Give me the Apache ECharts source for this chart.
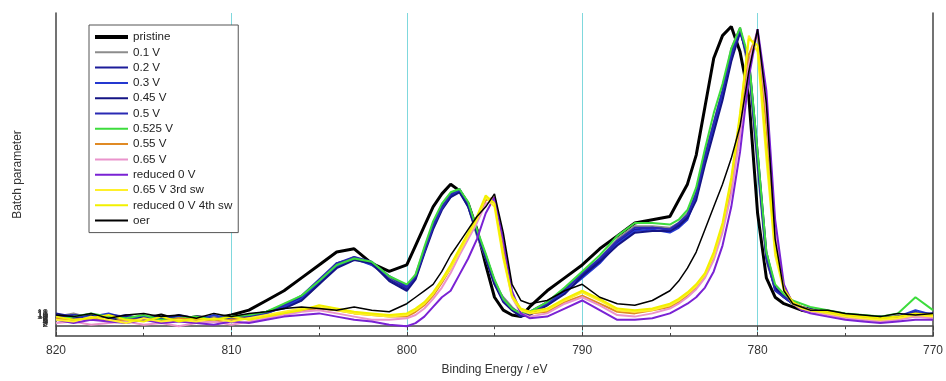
<!DOCTYPE html>
<html>
<head>
<meta charset="utf-8">
<script src="https://cdn.jsdelivr.net/npm/echarts@6/dist/echarts.min.js"></script>
<style>
    html, body { margin: 0; padding: 0; background: #fff; }
    #chart { width: 946px; height: 381px; }
</style>
</head>
<body>
<div id="chart"></div>
<script>
// binding energy grid (eV), finer steps around the peaks
let energy = [
    820, 819, 818, 817, 816, 815, 814, 813, 812, 811, 810, 809, 808, 807, 806, 805, 804, 803, 802, 801, 800,
    799.5, 799, 798.5, 798, 797.5, 797, 796.5, 796, 795.5, 795, 794.5, 794, 793.5, 793,
    792, 791, 790, 789, 788, 787, 786, 785,
    784.5, 784, 783.5, 783, 782.5, 782, 781.5, 781, 780.5, 780, 779.5, 779, 778.5, 778, 777.5, 777,
    776, 775, 774, 773, 772, 771, 770
];

let pristine = [
    6, 5, 6.5, 5, 6, 5.5, 6.5, 5, 6, 5.5, 6.5, 8, 11, 14, 18, 22, 26, 27, 22.5, 20, 22,
    28, 34, 40, 44, 47, 45, 41, 33, 22, 12, 8, 6.5, 6, 9,
    14, 18, 22, 27, 31, 35, 36, 37,
    42, 47, 56, 71, 86, 93, 95.8, 88, 74, 38, 18, 12, 10, 9, 8, 7.5,
    7, 6.5, 6, 5.5, 6, 6.5, 6
];
let v01 = [
    6, 7, 5.5, 6, 5, 6, 5, 5.5, 5, 6, 5.5, 6, 7, 9, 11, 16, 22, 24.5, 22, 18, 15,
    19, 27, 34, 40, 44, 45.5, 40, 31, 24, 16, 12, 9, 6.5, 7,
    10, 14, 19, 24, 30, 34, 34, 33.5,
    35, 38, 45, 57, 66, 76, 89, 95.5, 82, 52, 23, 15, 12.5, 10.5, 9, 8,
    7, 6, 5.5, 6, 5, 7, 6.5
];
let v02 = [
    5.5, 6.5, 6, 5, 6, 5, 6, 5, 5.5, 5, 6, 6.5, 7.5, 9.5, 12, 17, 22.5, 24, 22.5, 17.5, 14.5,
    18, 26, 34, 40, 43.5, 45, 40.5, 32.5, 25, 17, 11.5, 8.5, 7, 7.5,
    10.5, 14.5, 19, 23.5, 29, 33, 33.5, 33,
    34.5, 37, 44, 56, 65, 75, 88, 95, 84, 54, 24, 14.5, 12, 10, 9, 8.5,
    7, 6.5, 5.5, 6, 5.5, 6.5, 7
];
let v03 = [
    6.5, 5.5, 6, 7, 5.5, 6, 5.5, 6, 5, 6.5, 5, 6, 7, 9, 11.5, 16.5, 21.5, 24, 22, 18.5, 15.5,
    18.5, 26.5, 34.5, 39.5, 43, 45, 40, 31.5, 24.5, 16.5, 11, 8, 6.5, 7,
    9.5, 13.5, 18, 22.5, 28.5, 32.5, 33, 32,
    33.5, 36, 43, 54, 64, 74, 86, 94.5, 85, 56, 25, 15, 12.5, 10.5, 9, 8,
    7.5, 6, 6, 5.5, 6, 8, 6.5
];
let v045 = [
    7, 6, 5, 6.5, 6, 5.5, 5, 6.5, 5.5, 5, 6, 5.5, 7.5, 8.5, 11, 16, 21, 23.5, 22.5, 17, 14,
    17.5, 25.5, 33, 39, 43, 44.5, 40, 32, 24, 16, 10.5, 8, 6, 6.5,
    9.5, 13, 18.5, 23, 28, 32, 32.5, 32.5,
    34, 36.5, 42, 53, 63, 73, 85, 94, 86, 57, 26, 15, 12, 10, 9, 8,
    6.5, 6, 5, 6, 5.5, 7, 7
];
let v05 = [
    6, 6.5, 5, 5.5, 6.5, 5, 6, 5, 6, 5.5, 5, 6, 7, 9.5, 12.5, 17.5, 22.5, 24.5, 23, 18.5, 15,
    18.5, 26, 34, 39.5, 44, 45.5, 41, 32.5, 25, 17, 11, 8.5, 7, 7,
    10, 14, 19.5, 24, 29.5, 33.5, 33.5, 33,
    35, 37.5, 44, 55, 66, 76, 87, 95, 85, 55, 24.5, 14, 12, 10, 9, 8,
    7, 6.5, 6, 5, 6, 7.5, 6
];
let v0525 = [
    5, 6, 7, 6, 5.5, 6.5, 5, 5.5, 6, 5, 6, 6.5, 7.5, 10, 12.5, 17, 22, 24, 23, 18.5, 16,
    19, 27.5, 35.5, 41, 44.5, 45.5, 41.5, 33, 25.5, 17.5, 11.5, 8.5, 7, 7.5,
    10.5, 15, 20, 25, 31, 35, 35, 34.5,
    36, 39, 46, 58, 69, 78, 89, 95.5, 86, 57, 26, 16, 13, 11, 10, 9,
    8, 7, 6.5, 6, 7, 12, 8
];
let v055 = [
    5.5, 5, 5.5, 4.5, 5, 5, 4.5, 5.5, 5, 4.5, 5, 5.5, 6, 7, 8, 8.5, 8, 7, 6.5, 6, 6,
    7.5, 9.5, 12.5, 16.5, 21, 26.5, 31.5, 36, 42, 43, 27, 13, 8, 7,
    7.5, 10.5, 12.5, 10, 7.5, 7, 8, 9,
    10.5, 12.5, 15, 18.5, 24, 33, 46, 65, 87, 94, 65, 30, 15, 10.5, 9, 8,
    7, 6, 5.5, 5, 5.5, 6, 6
];
let v065 = [
    4, 4.5, 3.5, 4, 4.5, 3.5, 4, 3, 4, 4.5, 3.5, 4.5, 5.5, 6.5, 7.5, 8, 7, 6, 5, 5, 5.5,
    6.5, 8.5, 11.5, 15, 19.5, 25, 30, 35, 41, 42, 25, 12, 7, 6,
    7, 10, 12, 9.5, 6.5, 6, 7, 8.5,
    10, 12, 14.5, 18, 23.5, 32, 44, 62, 84, 95, 70, 32, 15, 10, 8.5, 7.5,
    6.5, 5.5, 5, 4.5, 5, 6, 5.5
];
let reduced0 = [
    5, 4, 5, 4.5, 4, 5, 4, 4.5, 4, 3.5, 4.5, 4, 5, 6, 6.5, 7, 6, 5, 4.5, 3.5, 3,
    4, 6, 9, 12, 14, 19, 24, 30, 38, 43, 30, 14, 7, 5.5,
    6, 8.5, 11, 8, 5, 5, 5.5, 7,
    8.5, 10, 12, 15, 20, 28, 40, 57, 80, 95, 76, 36, 16, 10, 8, 7,
    6, 5, 4.5, 4, 4.5, 5, 5
];
let v065sw3 = [
    5, 4.5, 6, 5, 4, 5.5, 4.5, 5, 4.5, 5.5, 4.5, 5.5, 6.5, 7.5, 8.5, 9, 8, 7, 6.5, 6, 6.5,
    8, 10, 13, 17, 21, 26, 31, 36, 43, 40, 24, 12, 8, 7,
    8, 11, 13.5, 11, 8, 7.5, 8, 9.5,
    11, 13, 15.5, 19, 25, 34, 48, 68, 93, 88, 55, 25, 14, 10, 8.5, 8,
    7, 6, 5.5, 5, 5.5, 6.5, 6
];
let reduced0sw4 = [
    6, 5, 5.5, 6.5, 5, 4.5, 6, 4.5, 5.5, 5, 6, 5, 6, 7, 8, 9.5, 8.5, 7.5, 7, 6.5, 7,
    8.5, 10.5, 13.5, 17.5, 22, 27, 32, 37, 43.5, 41, 25, 12.5, 8.5, 7.5,
    8.5, 11.5, 14, 11.5, 8.5, 8, 8.5, 10,
    11.5, 13.5, 16, 19.5, 26, 35, 49, 69, 92, 90, 58, 27, 14.5, 10.5, 9, 8,
    7.5, 6.5, 6, 5.5, 6, 7, 6.5
];
let oer = [
    6.5, 6, 7, 5.5, 6.5, 7, 6, 6.5, 5.5, 7, 6, 7, 7.5, 8.5, 9, 8.5, 8, 9, 8, 7.5, 10,
    12, 14, 16, 20, 25, 29, 33, 37, 40, 44, 32, 16, 11, 10,
    11, 14, 16, 12, 10, 9.5, 11, 14,
    17, 21, 26, 33, 40, 47, 55, 65, 82, 95, 72, 30, 14, 10, 9, 8,
    8, 7, 6.5, 6, 7, 6.5, 7
];

let batchTicks = [1, 2, 3, 4, 5, 6, 7, 8, 9, 10, 11, 12, 13];
let xTicks = [820, 810, 800, 790, 780, 770];

let lines = [
    { name: 'pristine', data: pristine, color: '#000000', width: 3, legendWidth: 4 },
    { name: '0.1 V', data: v01, color: '#8c8c8c', width: 2 },
    { name: '0.2 V', data: v02, color: '#1c1c9a', width: 2 },
    { name: '0.3 V', data: v03, color: '#2438d0', width: 2 },
    { name: '0.45 V', data: v045, color: '#141485', width: 2 },
    { name: '0.5 V', data: v05, color: '#2a2ab4', width: 2 },
    { name: '0.525 V', data: v0525, color: '#3ddc3d', width: 2 },
    { name: '0.55 V', data: v055, color: '#e08a24', width: 2 },
    { name: '0.65 V', data: v065, color: '#ea93cc', width: 2 },
    { name: 'reduced 0 V', data: reduced0, color: '#7a22d4', width: 2 },
    { name: '0.65 V 3rd sw', data: v065sw3, color: '#fff02a', width: 2 },
    { name: 'reduced 0 V 4th sw', data: reduced0sw4, color: '#f2f000', width: 2 },
    { name: 'oer', data: oer, color: '#000000', width: 1.5, legendWidth: 2 }
];

let font = "'Liberation Sans', Arial, sans-serif";

let xBase = {
    type: 'value',
    min: 770,
    max: 820,
    interval: 10,
    inverse: true,
    axisLine: { show: true, lineStyle: { color: '#444', width: 1.5 } },
    axisTick: { show: true, inside: true, length: 4, lineStyle: { color: '#444' } },
    minorTick: { show: true, splitNumber: 2, length: 3, lineStyle: { color: '#444' } }
};

let option = {
    animation: false,
    backgroundColor: '#fff',
    textStyle: { fontFamily: font },
    grid: { left: 56, right: 9, top: 13, bottom: 37 },
    legend: {
        orient: 'vertical',
        left: 89,
        top: 25,
        data: lines.map(l => ({
            name: l.name,
            lineStyle: { width: l.legendWidth || l.width, color: l.color }
        })),
        itemWidth: 33,
        itemHeight: 4,
        itemGap: 1.3,
        itemStyle: { opacity: 0 },
        padding: [5, 6, 5, 4],
        borderColor: '#555',
        borderWidth: 1,
        backgroundColor: '#fff',
        textStyle: { fontSize: 11.6, color: '#222', lineHeight: 14, fontFamily: font }
    },
    xAxis: [
        Object.assign({}, xBase, {
            position: 'bottom',
            name: 'Binding Energy / eV',
            nameLocation: 'middle',
            nameGap: 28,
            nameTextStyle: { fontSize: 12, color: '#333' },
            axisLabel: {
                fontSize: 12, color: '#333', margin: 9,
                customValues: xTicks
            },
            splitLine: {
                show: true, showMinLine: false, showMaxLine: false,
                lineStyle: { color: '#7fd8dd', width: 1 }
            }
        }),
        Object.assign({}, xBase, {
            position: 'top',
            axisLabel: { show: false },
            splitLine: { show: false }
        })
    ],
    yAxis: [
        {
            type: 'value',
            min: 0,
            max: 100,
            position: 'left',
            name: 'Batch parameter',
            nameLocation: 'middle',
            nameGap: 32,
            nameTextStyle: { fontSize: 12, color: '#333' },
            axisLine: { show: true, lineStyle: { color: '#444', width: 1.5 } },
            axisTick: { show: false },
            axisLabel: { show: false },
            splitLine: { show: false }
        },
        {
            type: 'value',
            min: -10,
            max: 321,
            position: 'left',
            axisLine: { show: false },
            axisTick: { show: false },
            splitLine: { show: false },
            axisLabel: {
                fontSize: 10, color: '#333', margin: 8,
                customValues: batchTicks
            }
        },
        {
            type: 'value',
            min: 0,
            max: 100,
            position: 'right',
            axisLine: { show: true, lineStyle: { color: '#444', width: 1.5 } },
            axisTick: { show: false },
            axisLabel: { show: false },
            splitLine: { show: false }
        }
    ],
    series: lines.map(l => ({
        name: l.name,
        type: 'line',
        xAxisIndex: 0,
        yAxisIndex: 0,
        symbol: 'none',
        smooth: false,
        color: l.color,
        lineStyle: { color: l.color, width: l.width },
        data: energy.map((e, i) => [e, l.data[i]])
    }))
};

let myChart = echarts.init(document.getElementById('chart'));
myChart.setOption(option);
</script>
</body>
</html>
